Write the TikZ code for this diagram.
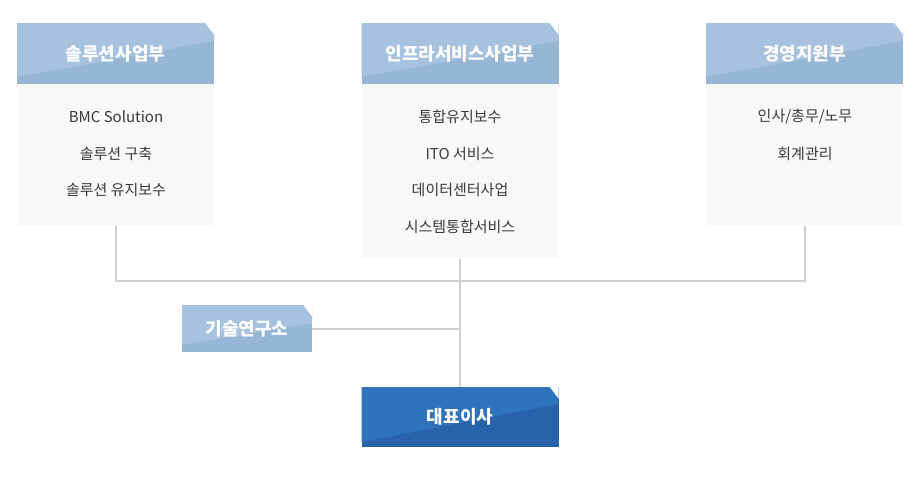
\documentclass[tikz,border=0pt]{standalone}
\usepackage{fontspec}
\setmainfont{Noto Sans CJK KR}
\usepackage{xcolor}
\usetikzlibrary{positioning}

\definecolor{hdlight}{HTML}{A6C2DE}
\definecolor{hddark}{HTML}{95B6D5}
\definecolor{ceolight}{HTML}{2E73BB}
\definecolor{ceodark}{HTML}{2862AA}
\definecolor{bodybg}{HTML}{F8F8F8}
\definecolor{linegray}{HTML}{CFCFCF}
\definecolor{itemtxt}{HTML}{3A3A3A}

\begin{document}
\begin{tikzpicture}[x=1pt, y=-1pt,
  hd/.style={fill=hddark, minimum width=197pt, minimum height=61pt, inner sep=0pt,
             text=white, font=\fontsize{18}{21}\selectfont\bfseries,
             path picture={\fill[hdlight] (path picture bounding box.north west)
               -- (path picture bounding box.north east)
               -- ([yshift=-18pt]path picture bounding box.north east)
               -- ([yshift=7pt]path picture bounding box.south west) -- cycle;}},
  bodybox/.style={fill=bodybg, minimum width=197pt, inner sep=0pt},
  item/.style={text=itemtxt, inner sep=1pt, font=\fontsize{15}{18}\selectfont},
  link/.style={draw=linegray, line width=2pt}]

\useasboundingbox (0,0) rectangle (920,480);

\node[hd] (h1) at (115.5,53.5) {솔루션사업부};
\node[hd] (h2) at (460,53.5) {인프라서비스사업부};
\node[hd] (h3) at (804.5,53.5) {경영지원부};

\node[bodybox, minimum height=141pt, below=0pt of h1] (b1) {};
\node[bodybox, minimum height=174pt, below=0pt of h2] (b2) {};
\node[bodybox, minimum height=141pt, below=0pt of h3] (b3) {};

\node[item] (s1a) at (116,117) {BMC Solution};
\node[item] (s1b) at (116,154) {솔루션 구축};
\node[item] (s1c) at (116,190) {솔루션 유지보수};

\node[item] (s2a) at (460,117) {통합유지보수};
\node[item] (s2b) at (460,154) {ITO 서비스};
\node[item] (s2c) at (460,190) {데이터센터사업};
\node[item] (s2d) at (460,227) {시스템통합서비스};

\node[item] (s3a) at (805,117) {인사/총무/노무};
\node[item] (s3b) at (805,154) {회계관리};

\node[hd, minimum width=130pt, minimum height=47pt] (lab) at (247,328.5) {기술연구소};
\node[hd, fill=ceodark, minimum height=60pt,
      path picture={\fill[ceolight] (path picture bounding box.north west)
        -- (path picture bounding box.north east)
        -- ([yshift=-17pt]path picture bounding box.north east)
        -- ([yshift=5pt]path picture bounding box.south west) -- cycle;}]
      (ceo) at (460,417) {대표이사};

\coordinate (bus) at (460,281);

% org lines
\draw[link] (b1.south) |- (bus) -| (b3.south);
\draw[link] (b2.south) -- (ceo.north);
\draw[link] (lab.east) -- (lab.east -| ceo.north);

% cut corners
\foreach \n in {h1,h2,h3,lab,ceo}
  \fill[white] (\n.north east) -- ++(-9,0) -- ++(9,12) -- cycle;
\end{tikzpicture}
\end{document}
